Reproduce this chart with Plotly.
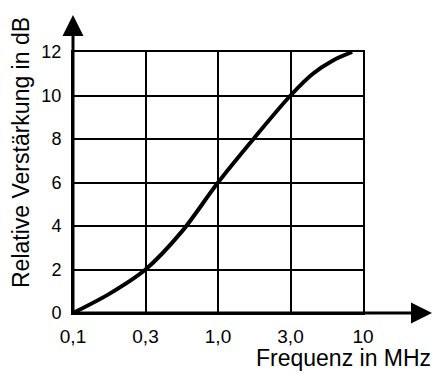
import plotly.graph_objects as go

# Evenly spaced (log-like) frequency axis: tick positions and labels
tick_pos = [0, 1, 2, 3, 4]
tick_labels = ["0,1", "0,3", "1,0", "3,0", "10"]

gain_ticks = [0, 2, 4, 6, 8, 10, 12]

# Curve (x in tick-position units, y in dB)
curve_pos = [0.00, 0.50, 1.00, 1.50, 2.00, 2.50, 3.00, 3.30, 3.58, 3.85]
curve_gain = [0.00, 0.88, 2.00, 3.74, 6.00, 8.05, 10.00, 10.98, 11.60, 12.00]

x_title = "Frequenz in MHz"
y_title = "Relative Verstärkung in dB"

FONT = "Liberation Sans, Arial, sans-serif"

W, H = 433, 376
L, R, T, B = 73, 70, 52, 63
pw, ph = W - L - R, H - T - B

def px_x(px):
    return (px - L) / pw

def px_y(py):
    return (H - B - py) / ph

fig = go.Figure()
fig.add_trace(go.Scatter(
    x=curve_pos, y=curve_gain, mode="lines",
    line=dict(color="black", width=4, shape="spline", smoothing=0.9),
    cliponaxis=False, showlegend=False, hoverinfo="skip",
))

fig.update_xaxes(
    range=[0, 4], tickvals=tick_pos, ticktext=tick_labels,
    showgrid=True, gridcolor="black", gridwidth=2,
    zeroline=False, showline=True, linecolor="black", linewidth=2, mirror=True,
    ticks="", ticklabelstandoff=5,
    tickfont=dict(family=FONT, size=19, color="black"),
)
fig.update_yaxes(
    range=[0, 12], tickvals=gain_ticks,
    showgrid=True, gridcolor="black", gridwidth=2,
    zeroline=False, showline=True, linecolor="black", linewidth=2, mirror=True,
    ticks="", ticklabelstandoff=6,
    tickfont=dict(family=FONT, size=18, color="black"),
)

# Axis arrows
fig.add_annotation(xref="paper", yref="paper", x=px_x(432), y=0,
                   ax=-(432 - L), ay=0, axref="pixel", ayref="pixel",
                   text="", showarrow=True, arrowhead=2, arrowsize=1.4,
                   arrowwidth=3, arrowcolor="black")
fig.add_annotation(xref="paper", yref="paper", x=0, y=px_y(15),
                   ax=0, ay=(H - B - 15), axref="pixel", ayref="pixel",
                   text="", showarrow=True, arrowhead=2, arrowsize=1.4,
                   arrowwidth=3, arrowcolor="black")

# Axis titles
fig.add_annotation(xref="paper", yref="paper", x=px_x(433), y=px_y(373),
                   xanchor="right", yanchor="bottom", showarrow=False,
                   text=x_title, font=dict(family=FONT, size=23, color="black"))
fig.add_annotation(xref="paper", yref="paper", x=px_x(21), y=px_y(153),
                   xanchor="center", yanchor="middle", showarrow=False,
                   textangle=-90,
                   text=y_title, font=dict(family=FONT, size=23, color="black"))

fig.update_layout(
    width=W, height=H, autosize=False,
    margin=dict(l=L, r=R, t=T, b=B, pad=0),
    plot_bgcolor="white", paper_bgcolor="white",
)

fig.write_html("out.html", config={"displayModeBar": False})
